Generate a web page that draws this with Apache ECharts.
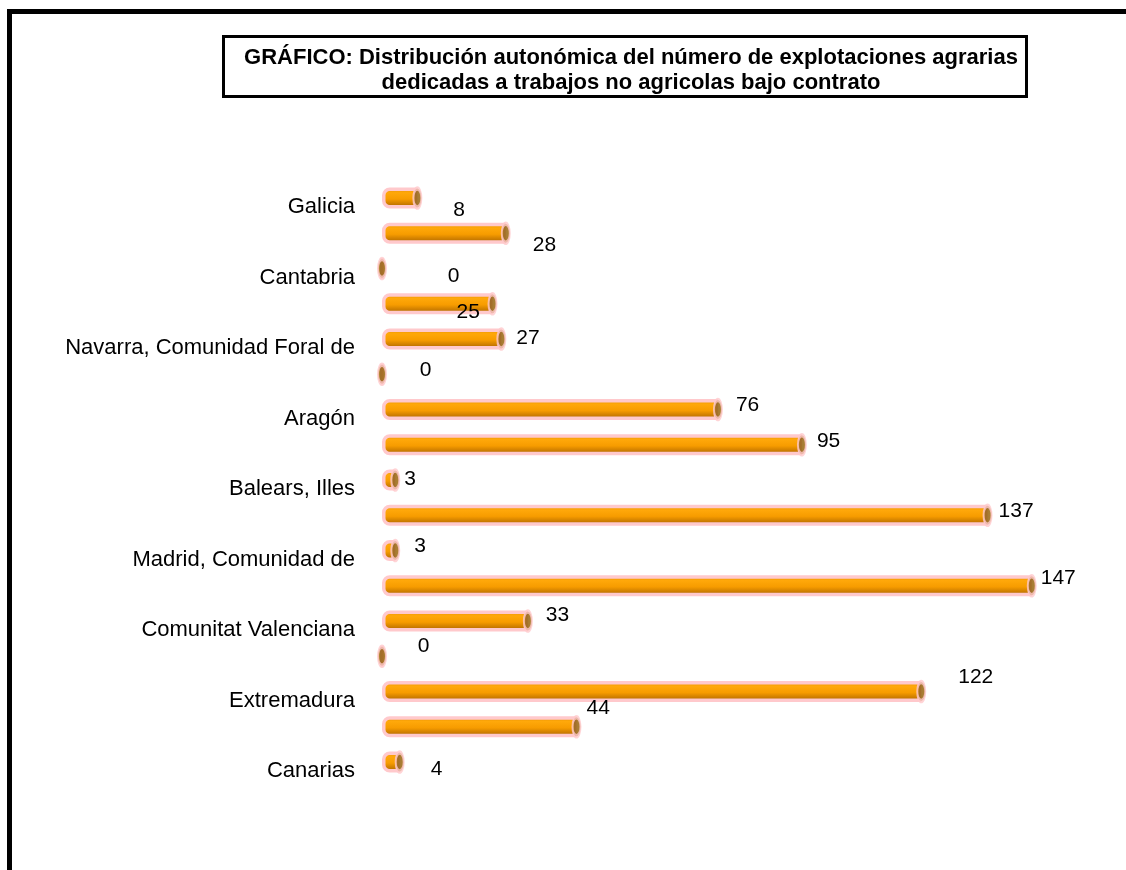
<!DOCTYPE html>
<html>
<head>
<meta charset="utf-8">
<script src="https://cdn.jsdelivr.net/npm/echarts@6/dist/echarts.min.js"></script>
<style>
html,body{margin:0;padding:0;background:#fff;}
#chart{width:1126px;height:870px;}
</style>
</head>
<body>
<div id="chart"></div>
<script>
// ---- data ----
const categories = [
  'Galicia', 'Asturias, Principado de', 'Cantabria', 'País Vasco',
  'Navarra, Comunidad Foral de', 'Rioja, La', 'Aragón', 'Cataluña',
  'Balears, Illes', 'Castilla y León', 'Madrid, Comunidad de', 'Castilla-La Mancha',
  'Comunitat Valenciana', 'Murcia, Región de', 'Extremadura', 'Andalucía', 'Canarias'
];
const values = [8, 28, 0, 25, 27, 0, 76, 95, 3, 137, 3, 147, 33, 0, 122, 44, 4];
const titleLines = [
  'GRÁFICO: Distribución autonómica del número de explotaciones agrarias',
  'dedicadas a trabajos no agricolas bajo contrato'
];

// ---- label nudges (presentation only) ----
const labelNudge = [
  [36, 12], [27, 12], [64, 8], [-36, 8], [15, -1], [36, -4], [18, -4], [15, -4],
  [9, -1], [11, -4], [19, -4], [9, -8], [18, -6], [34, -10], [37, -14], [10, -19], [31, 7]
];

const FONT = '"Liberation Sans", Arial, sans-serif';
const chart = echarts.init(document.getElementById('chart'), null, {renderer: 'canvas'});

const barGradient = new echarts.graphic.LinearGradient(0, 0, 0, 1, [
  {offset: 0, color: '#E08C00'},
  {offset: 0.25, color: '#FFA80A'},
  {offset: 0.55, color: '#F79C00'},
  {offset: 0.8, color: '#C97A00'},
  {offset: 1, color: '#7A4C00'}
]);
const capGradient = new echarts.graphic.LinearGradient(0, 0, 1, 0, [
  {offset: 0, color: '#F0A000'},
  {offset: 0.3, color: '#8A5600'},
  {offset: 1, color: '#9C6200'}
]);

const barData = values.map((v, i) => ({
  value: v,
  label: {offset: labelNudge[i]}
}));
const capData = values.map((v, i) => [v, categories[i]]);

chart.setOption({
  animation: false,
  backgroundColor: '#ffffff',
  textStyle: {fontFamily: FONT},
  title: {
    text: titleLines.join('\n'),
    left: 626,
    top: 40,
    textAlign: 'center',
    textStyle: {
      fontFamily: FONT,
      fontWeight: 'bold',
      fontSize: 22,
      lineHeight: 25,
      color: '#000'
    }
  },
  graphic: [
    {type: 'rect', shape: {x: 9.5, y: 11.5, width: 1300, height: 1000},
     style: {fill: null, stroke: '#000', lineWidth: 5}, silent: true, z: 100},
    {type: 'rect', shape: {x: 223.5, y: 36.5, width: 803, height: 60},
     style: {fill: null, stroke: '#000', lineWidth: 3}, silent: true, z: 100}
  ],
  grid: {left: 382, top: 180.4, width: 707.2, height: 599.25, containLabel: false},
  xAxis: {
    type: 'value', min: 0, max: 160, show: false,
    splitLine: {show: false}
  },
  yAxis: {
    type: 'category',
    data: categories,
    inverse: true,
    axisLine: {show: false},
    axisTick: {show: false},
    splitLine: {show: false},
    axisLabel: {
      interval: 1,
      margin: 27,
      fontSize: 22,
      fontFamily: FONT,
      color: '#000',
      verticalAlign: 'top',
      lineHeight: 18
    }
  },
  series: [
    {
      type: 'bar',
      data: barData,
      barWidth: 21,
      itemStyle: {
        color: barGradient,
        borderColor: '#FFC9CC',
        borderWidth: 3.5,
        borderRadius: [6, 0, 0, 6]
      },
      label: {
        show: true,
        position: 'right',
        distance: 0,
        fontSize: 21,
        fontFamily: FONT,
        color: '#000'
      },
      z: 2
    },
    {
      type: 'scatter',
      data: capData,
      symbol: 'path://M0,10 A5,10 0 1,1 10,10 A5,10 0 1,1 0,10 Z',
      symbolSize: [8, 19],
      itemStyle: {
        color: capGradient,
        borderColor: '#FFC9CC',
        borderWidth: 3
      },
      z: 3
    }
  ]
});
</script>
</body>
</html>
